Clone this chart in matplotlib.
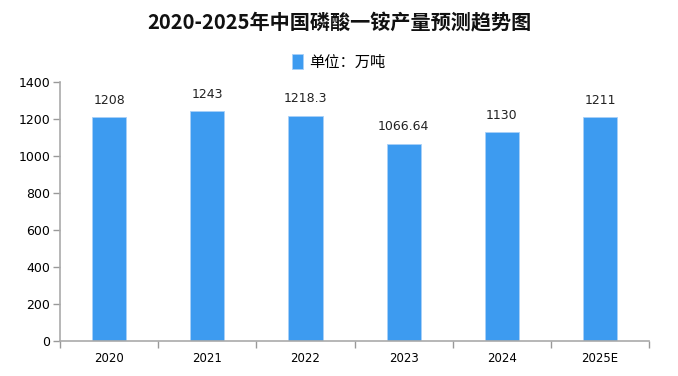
import matplotlib
matplotlib.use("Agg")
import matplotlib.pyplot as plt
import numpy as np

plt.rcParams['font.family'] = ['Noto Sans CJK SC', 'DejaVu Sans']

categories = ["2020", "2021", "2022", "2023", "2024", "2025E"]
values = [1208, 1243, 1218.3, 1066.64, 1130, 1211]
value_labels = ["1208", "1243", "1218.3", "1066.64", "1130", "1211"]
yticks = [0, 200, 400, 600, 800, 1000, 1200, 1400]

fig = plt.figure(figsize=(6.78, 3.76), dpi=100)
ax = fig.add_axes([0.0885, 0.093, 0.869, 0.689])

x = np.arange(len(categories))
bar_color = "#3d9bf0"
bars = ax.bar(x, values, width=0.35, color=bar_color, edgecolor="#a8d0f8", linewidth=0.6,
              label="单位：万吨")

for xi, v, lab in zip(x, values, value_labels):
    ax.text(xi, v + 55, lab, ha="center", va="bottom", fontsize=9, color="#222222",
            family=["DejaVu Sans"])

ax.set_xlim(-0.5, len(categories) - 0.5)
ax.set_ylim(0, 1400)
ax.set_yticks(yticks)
ax.set_yticklabels([str(t) for t in yticks], fontsize=9, family=["DejaVu Sans"])

ax.set_xticks(x)
ax.set_xticklabels(categories, fontsize=8.5, family=["DejaVu Sans"])
ax.tick_params(axis="x", length=0, pad=8)
ax.set_xticks(np.arange(len(categories) + 1) - 0.5, minor=True)
ax.tick_params(axis="x", which="minor", length=5, color="#999999", width=1)
ax.tick_params(axis="y", length=5, color="#999999", width=1, pad=2)

for s in ["top", "right"]:
    ax.spines[s].set_visible(False)
for s in ["left", "bottom"]:
    ax.spines[s].set_color("#aaaaaa")
    ax.spines[s].set_linewidth(1.2)

fig.text(0.5, 0.94, "2020-2025年中国磷酸一铵产量预测趋势图", ha="center", va="center",
         fontsize=14.5, fontweight="bold", color="#111111")
fig.legend(handles=[bars], labels=["单位：万吨"], loc="center", bbox_to_anchor=(0.5, 0.835),
           frameon=False, fontsize=11, handlelength=0.7, handleheight=1.1, handletextpad=0.4)

fig.savefig("out.png", dpi=100)
